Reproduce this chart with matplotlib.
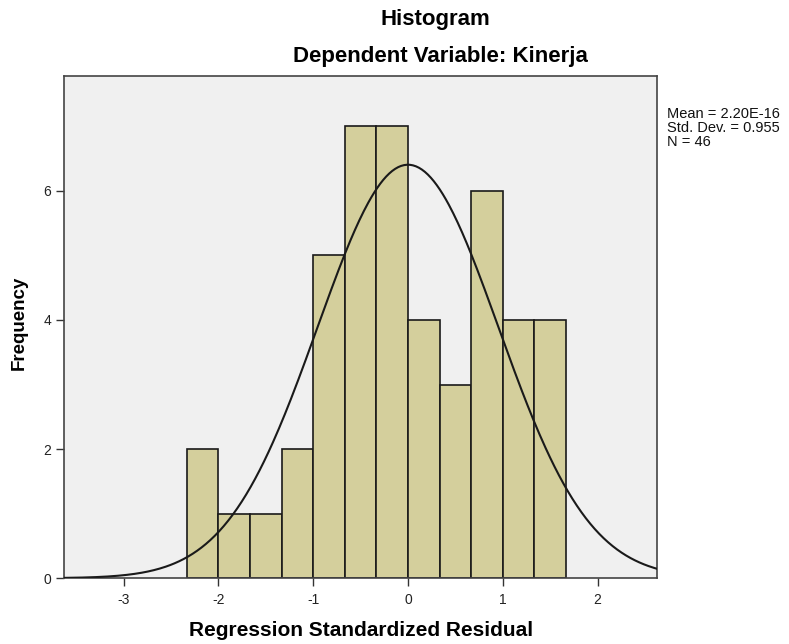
import matplotlib

matplotlib.use("Agg")

import matplotlib.pyplot as plt
import numpy as np

plt.rcParams["font.family"] = ["Liberation Sans", "DejaVu Sans"]

# histogram of regression standardized residuals (SPSS output)
bin_edges = [-2.333, -2.0, -1.667, -1.333, -1.0, -0.667, -0.333,
             0.0, 0.333, 0.667, 1.0, 1.333, 1.667]
counts = [2, 1, 1, 2, 5, 7, 7, 4, 3, 6, 4, 4]
mean = 2.20e-16
std_dev = 0.955
n_obs = 46
x_ticks = [-3, -2, -1, 0, 1, 2]
y_ticks = [0, 2, 4, 6]

fig = plt.figure(figsize=(7.89, 6.44), dpi=100)
ax = fig.add_axes([0.0805, 0.1022, 0.7522, 0.7798])
ax.set_facecolor("#f0f0f0")

edges = np.array(bin_edges)
widths = np.diff(edges)
ax.bar(edges[:-1], counts, width=widths, align="edge",
       color="#d4cf9c", edgecolor="#1a1a1a", linewidth=1.2, zorder=2)

# normal curve scaled to counts
xs = np.linspace(-3.64, 2.63, 400)
bw = widths.mean()
ys = n_obs * bw / (std_dev * np.sqrt(2 * np.pi)) * np.exp(-0.5 * ((xs - mean) / std_dev) ** 2)
ax.plot(xs, ys, color="#1a1a1a", linewidth=1.5, zorder=3)

ax.set_xlim(-3.634, 2.627)
ax.set_ylim(0, 7.78)
ax.set_xticks(x_ticks)
ax.set_xticklabels([str(t) for t in x_ticks])
ax.set_yticks(y_ticks)
ax.tick_params(direction="out", length=6, width=1, colors="#333333",
               labelsize=10, labelcolor="#222222")
ax.tick_params(axis="x", pad=5)
ax.tick_params(axis="y", pad=3)
for s in ax.spines.values():
    s.set_color("#444444")
    s.set_linewidth(1.2)

ax.set_xlabel("Regression Standardized Residual", fontsize=15,
              fontweight="bold")
ax.xaxis.set_label_coords(0.501, -0.085)
ax.set_ylabel("Frequency", fontsize=13.5, fontweight="bold")
ax.yaxis.set_label_coords(-0.06, 0.508)

fig.text(0.5513, 0.969, "Histogram", ha="center", va="center",
         fontsize=16, fontweight="bold")
fig.text(0.5577, 0.913, "Dependent Variable: Kinerja", ha="center",
         va="center", fontsize=16, fontweight="bold")

stats = f"Mean = {mean:.2E}\nStd. Dev. = {std_dev}\nN = {n_obs}"
fig.text(0.845, 0.834, stats, ha="left", va="top", fontsize=10.5,
         linespacing=1.02, color="#111111")

fig.savefig("out.png", dpi=100)
